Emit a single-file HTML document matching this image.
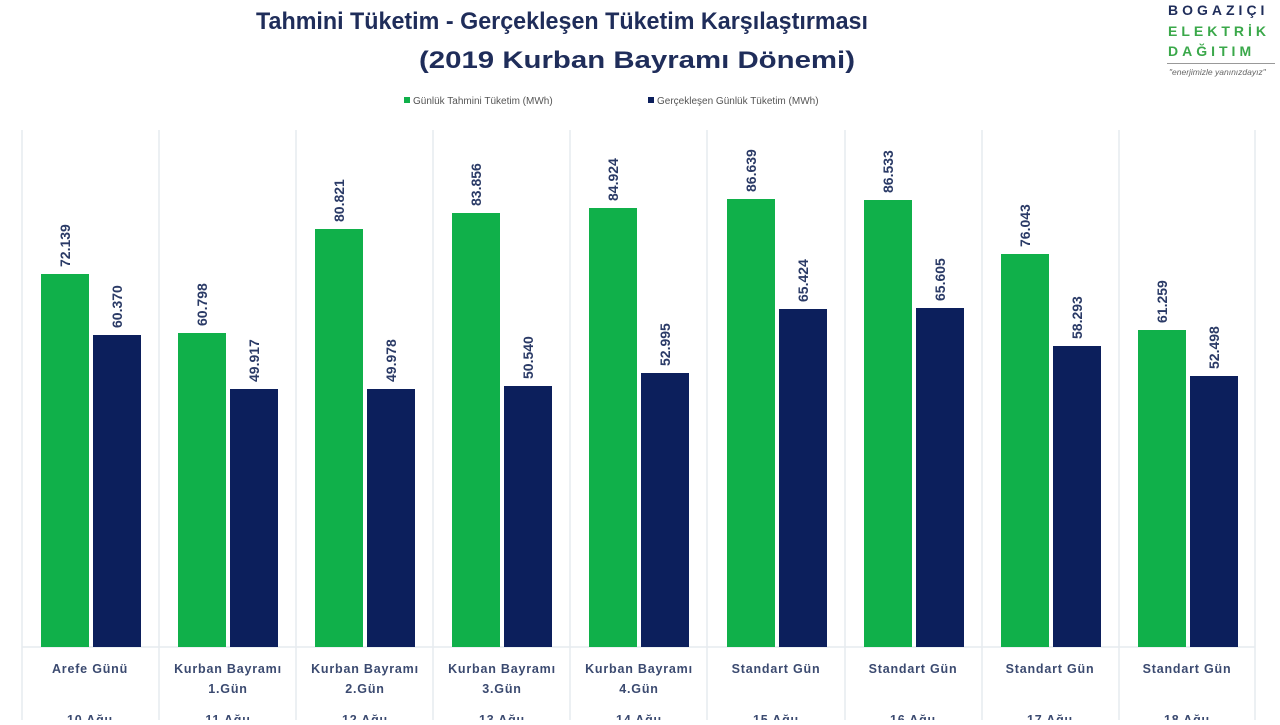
<!DOCTYPE html>
<html><head><meta charset="utf-8"><style>
body{margin:0;background:#fff;width:1280px;height:720px;overflow:hidden;font-family:"Liberation Sans","DejaVu Sans",sans-serif}
</style></head><body>
<svg width="1280" height="720" viewBox="0 0 1280 720" xmlns="http://www.w3.org/2000/svg" font-family="Liberation Sans, DejaVu Sans, sans-serif">
<rect width="1280" height="720" fill="#fff"/>
<text x="562" y="29" text-anchor="middle" font-size="24" font-weight="bold" fill="#1f2d5a" textLength="612" lengthAdjust="spacingAndGlyphs">Tahmini Tüketim - Gerçekleşen Tüketim Karşılaştırması</text>
<text x="637" y="68" text-anchor="middle" font-size="24" font-weight="bold" fill="#1f2d5a" textLength="436" lengthAdjust="spacingAndGlyphs">(2019 Kurban Bayramı Dönemi)</text>
<g font-weight="bold" font-size="14" letter-spacing="4">
<text x="1168" y="15" fill="#1f2d5a">BOGAZIÇI</text>
<text x="1168" y="36" fill="#3aa84a">ELEKTRİK</text>
<text x="1168" y="56" fill="#3aa84a">DAĞITIM</text>
</g>
<rect x="1167" y="63" width="108" height="1" fill="#999"/>
<text x="1169" y="75" font-size="8.5" fill="#666" font-style="italic">"enerjimizle yanınızdayız"</text>
<rect x="404" y="97" width="6" height="6" fill="#10b04a"/>
<text x="413" y="104" font-size="10" fill="#555">Günlük Tahmini Tüketim (MWh)</text>
<rect x="648" y="97" width="6" height="6" fill="#0c1f5c"/>
<text x="657" y="104" font-size="10" fill="#555">Gerçekleşen Günlük Tüketim (MWh)</text>
<g stroke="#e6ebef" stroke-width="1.5">
<line x1="22" y1="130" x2="22" y2="720"/><line x1="159" y1="130" x2="159" y2="720"/><line x1="296" y1="130" x2="296" y2="720"/><line x1="433" y1="130" x2="433" y2="720"/><line x1="570" y1="130" x2="570" y2="720"/><line x1="707" y1="130" x2="707" y2="720"/><line x1="845" y1="130" x2="845" y2="720"/><line x1="982" y1="130" x2="982" y2="720"/><line x1="1119" y1="130" x2="1119" y2="720"/><line x1="1255" y1="130" x2="1255" y2="720"/>
<line x1="22" y1="647" x2="1255" y2="647"/>
</g>
<g>
<rect x="41" y="274" width="48" height="373" fill="#10b04a"/><rect x="93" y="335" width="48" height="312" fill="#0c1f5c"/>
<rect x="178" y="333" width="48" height="314" fill="#10b04a"/><rect x="230" y="389" width="48" height="258" fill="#0c1f5c"/>
<rect x="315" y="229" width="48" height="418" fill="#10b04a"/><rect x="367" y="389" width="48" height="258" fill="#0c1f5c"/>
<rect x="452" y="213" width="48" height="434" fill="#10b04a"/><rect x="504" y="386" width="48" height="261" fill="#0c1f5c"/>
<rect x="589" y="208" width="48" height="439" fill="#10b04a"/><rect x="641" y="373" width="48" height="274" fill="#0c1f5c"/>
<rect x="727" y="199" width="48" height="448" fill="#10b04a"/><rect x="779" y="309" width="48" height="338" fill="#0c1f5c"/>
<rect x="864" y="200" width="48" height="447" fill="#10b04a"/><rect x="916" y="308" width="48" height="339" fill="#0c1f5c"/>
<rect x="1001" y="254" width="48" height="393" fill="#10b04a"/><rect x="1053" y="346" width="48" height="301" fill="#0c1f5c"/>
<rect x="1138" y="330" width="48" height="317" fill="#10b04a"/><rect x="1190" y="376" width="48" height="271" fill="#0c1f5c"/>
</g>
<g font-size="14" font-weight="bold" fill="#2a3a66">
<text transform="translate(70,267) rotate(-90)">72.139</text><text transform="translate(122,328) rotate(-90)">60.370</text>
<text transform="translate(207,326) rotate(-90)">60.798</text><text transform="translate(259,382) rotate(-90)">49.917</text>
<text transform="translate(344,222) rotate(-90)">80.821</text><text transform="translate(396,382) rotate(-90)">49.978</text>
<text transform="translate(481,206) rotate(-90)">83.856</text><text transform="translate(533,379) rotate(-90)">50.540</text>
<text transform="translate(618,201) rotate(-90)">84.924</text><text transform="translate(670,366) rotate(-90)">52.995</text>
<text transform="translate(756,192) rotate(-90)">86.639</text><text transform="translate(808,302) rotate(-90)">65.424</text>
<text transform="translate(893,193) rotate(-90)">86.533</text><text transform="translate(945,301) rotate(-90)">65.605</text>
<text transform="translate(1030,247) rotate(-90)">76.043</text><text transform="translate(1082,339) rotate(-90)">58.293</text>
<text transform="translate(1167,323) rotate(-90)">61.259</text><text transform="translate(1219,369) rotate(-90)">52.498</text>
</g>
<g font-size="12.5" font-weight="bold" fill="#3b4a70" text-anchor="middle" letter-spacing="0.8">
<text x="90" y="673">Arefe Günü</text>
<text x="228" y="673">Kurban Bayramı</text><text x="228" y="693">1.Gün</text>
<text x="365" y="673">Kurban Bayramı</text><text x="365" y="693">2.Gün</text>
<text x="502" y="673">Kurban Bayramı</text><text x="502" y="693">3.Gün</text>
<text x="639" y="673">Kurban Bayramı</text><text x="639" y="693">4.Gün</text>
<text x="776" y="673">Standart Gün</text>
<text x="913" y="673">Standart Gün</text>
<text x="1050" y="673">Standart Gün</text>
<text x="1187" y="673">Standart Gün</text>
<text x="90" y="724">10 Ağu</text><text x="228" y="724">11 Ağu</text><text x="365" y="724">12 Ağu</text><text x="502" y="724">13 Ağu</text><text x="639" y="724">14 Ağu</text><text x="776" y="724">15 Ağu</text><text x="913" y="724">16 Ağu</text><text x="1050" y="724">17 Ağu</text><text x="1187" y="724">18 Ağu</text>
</g>
</svg>
</body></html>
